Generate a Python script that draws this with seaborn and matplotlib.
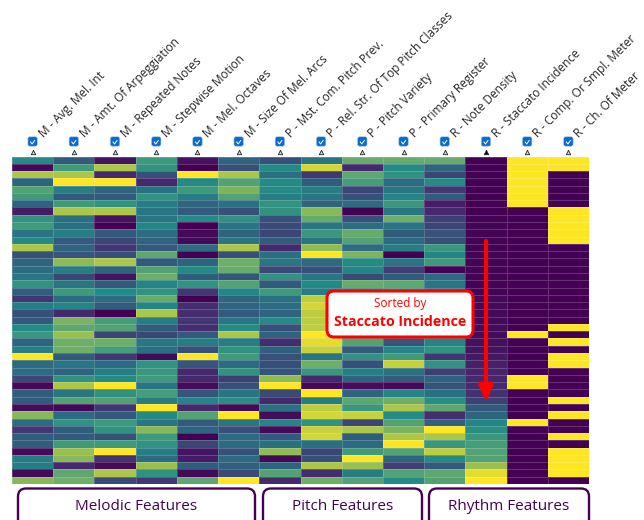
"""
Feature heatmap sorted by staccato incidence, with feature group boxes.
"""

import pandas as pd
import numpy as np
import matplotlib
matplotlib.use("Agg")
import matplotlib.pyplot as plt
from matplotlib.colors import LinearSegmentedColormap
from matplotlib.patches import FancyBboxPatch
import seaborn as sns

feature_labels = ["M - Avg. Mel. Int", "M - Amt. Of Arpeggiation", "M - Repeated Notes",
                  "M - Stepwise Motion", "M - Mel. Octaves", "M - Size Of Mel. Arcs",
                  "P - Mst. Com. Pitch Prev.", "P - Rel. Str. Of Top Pitch Classes",
                  "P - Pitch Variety", "P - Primary Register", "R - Note Density",
                  "R - Staccato Incidence", "R - Comp. Or Smpl. Meter", "R - Ch. Of Meter"]

avg_mel_int = [.5,.02,.85,.35,.65,.6,.35,.07,.55,.6,.42,.5,.85,.25,.35,.38,.42,.55,.32,.15,.45,.25,.3,
               .5,.58,.35,.45,1,.38,.38,.22,.02,.32,.32,.03,.78,.38,.15,.32,.32,.02,.45,.45,.02,.78]
arpeggiation = [.3,.6,.85,1,.45,.3,.6,.85,.4,.4,.45,.3,.35,.28,.8,.45,.2,.42,.6,.38,.48,.1,.75,
                .68,.82,.72,.72,.3,.42,.35,.55,.85,.42,.65,.02,.38,.55,.32,.3,.6,.82,.78,.1,.68,.72]
repeated_notes = [.05,.85,.1,1,.35,.3,.55,.85,.05,0,.3,.2,.15,.25,.85,.35,.05,.3,.5,.38,.32,0,.62,
                  .65,.2,.72,.62,.15,.38,.45,.5,1,.55,.65,.15,.3,.6,.55,.25,.6,1,.13,.03,.85,.22]
stepwise_motion = [.6,.55,.25,.1,.4,.55,.45,.42,.42,.48,.38,.35,.3,.68,.3,.65,.72,.48,.55,.7,.48,.85,.45,
                   .32,.2,.42,.4,.02,.55,.58,.6,.42,.62,.45,1,.5,.42,.78,.6,.55,.45,.38,.82,.55,.15]
mel_octaves = [.05,0,1,.5,.6,.45,.35,.3,.5,0,.02,.02,.38,0,.35,.5,.32,.55,.15,0,.12,.12,.15,
               .12,.3,.45,.25,1,.28,.1,.1,.03,.28,.48,.1,.65,.3,.35,0,.2,.05,.07,.32,.02,.68]
mel_arcs = [.35,.25,.85,.65,.75,.65,.4,.25,.55,.42,.35,.42,.85,.25,.72,.7,.28,.65,.48,.35,.35,.3,.42,
            .5,.85,.45,.55,.6,.38,.55,.18,.25,.42,.52,.02,1,.42,.25,.38,.38,.25,.37,.33,.22,1]
com_pitch_prev = [.25,.5,.4,.5,.5,.45,.55,.55,.25,.22,.2,.32,.1,.4,.42,.22,.55,.3,.6,.4,.38,.35,.5,
                  .25,.35,.12,.33,.25,.25,.27,.8,1,.22,.1,.4,.03,.48,.02,.3,.4,.8,.02,.35,.65,.1]
top_pitch_classes = [.42,.92,.15,.32,.45,.42,.35,.78,.7,.42,.58,.42,.8,1,.38,.25,.42,.5,.45,.88,.92,.88,.88,
                     .88,1,.95,.9,.42,.72,.58,.1,.02,1,.45,.88,.92,.55,.9,.92,.4,.2,.25,.85,.12,.72]
pitch_variety = [.7,.1,.68,.62,.2,.25,.38,0,.25,.38,.7,.65,.38,.75,.5,.48,.22,.7,.5,.4,.6,.5,.65,
                 .55,.6,.65,.3,.55,.25,.45,.35,.03,.35,.68,.58,.9,.2,.85,.32,.38,.6,1,.82,.45,.65]
primary_register = [.7,.5,.55,.38,.42,.48,.58,.42,.72,.42,.32,.38,.45,0,.42,.18,.3,.68,.55,.45,.35,.6,.4,
                    .5,.3,.28,.48,.6,.9,.4,.3,.02,.48,.72,.85,.5,.65,.75,.85,1,.65,.35,.18,.65,.5]
note_density = [.7,.35,.2,.5,.15,.32,.07,.1,.18,.2,.27,.25,.58,.48,.6,0,.38,.42,.4,.2,.55,.3,.45,
                .35,.5,.48,.55,.15,.55,.18,.35,.27,.4,.52,.68,.12,.33,1,.85,.58,.88,.5,.3,.68,.65]
staccato = [0,0,0,0,0,0,0,0,.01,.01,.01,.01,.01,.01,.01,.01,.01,.01,.01,.02,.02,.02,.02,
            .03,.03,.04,.05,.06,.08,.09,.1,.11,.13,.18,.3,.35,.48,.52,.58,.62,.65,.65,.82,.95,1]
comp_smpl_meter = [1,1,1,1,1,1,1,0,0,0,0,0,0,0,0,0,0,0,0,0,0,0,0,
                   0,1,0,0,0,0,0,1,1,0,0,0,0,1,0,0,0,0,0,0,0,0]
ch_of_meter = [1,1,0,0,0,0,0,1,1,1,1,1,0,0,0,0,0,0,0,0,0,0,0,
               1,0,1,0,1,1,0,0,0,0,1,0,1,0,0,1,0,1,1,1,1,0]

group_names = ["Melodic Features", "Pitch Features", "Rhythm Features"]
group_spans = [(18, 255), (263, 422), (429, 589)]

PURPLE = "#440154"
RED = "#ff0000"
BLUE = "#0b6bcb"
sorted_col = 11

# viridis as it looks in the screenshot, duller in the middle
muted_viridis = LinearSegmentedColormap.from_list(
    "muted_viridis",
    ["#440154", "#46296e", "#3c4676", "#33597c", "#2a7083", "#238a85",
     "#3f9a7c", "#65aa6c", "#8fbb55", "#c6d13c", "#fde725"])

plt.rcParams["font.family"] = ["Open Sans", "DejaVu Sans"]

df = pd.DataFrame(
    np.column_stack([avg_mel_int, arpeggiation, repeated_notes, stepwise_motion, mel_octaves,
                     mel_arcs, com_pitch_prev, top_pitch_classes, pitch_variety, primary_register,
                     note_density, staccato, comp_smpl_meter, ch_of_meter]),
    columns=feature_labels)

fig = plt.figure(figsize=(6.44, 5.2), dpi=100)
ax = fig.add_axes([12 / 644, 36 / 520, 577 / 644, 327.5 / 520])
sns.heatmap(df, ax=ax, cmap=muted_viridis, vmin=0, vmax=1, cbar=False,
            xticklabels=False, yticklabels=False, linewidths=0.5, linecolor="#ffffff30")

# overlay in pixel coordinates for the interface bits around the heatmap
ov = fig.add_axes([0, 0, 1, 1], zorder=5)
ov.set_xlim(0, 644); ov.set_ylim(520, 0)
ov.axis("off"); ov.patch.set_alpha(0)

col_w = 577 / len(feature_labels)
for i, label in enumerate(feature_labels):
    cx = 12 + col_w * (i + 0.5)
    ov.text(cx + 13, 140, label, rotation=45, rotation_mode="anchor", ha="left", va="bottom",
            fontsize=8.5, color="#262626")
    ov.add_patch(FancyBboxPatch((cx - 3.5, 138), 7, 7, boxstyle="round,pad=1.2,rounding_size=2",
                                fc=BLUE, ec="#9cc4ec", lw=0.4))
    ov.plot([cx - 2, cx - 0.5, cx + 2], [142, 144, 140.5], color="white", lw=0.7)
    ov.scatter([cx], [152], marker="^", s=10, linewidths=0.6, edgecolors="#222222",
               color="black" if i == sorted_col else "#d8d8d8")

# group boxes, cut off by the bottom of the figure
for name, (x0, x1) in zip(group_names, group_spans):
    ov.add_patch(FancyBboxPatch((x0, 488.5), x1 - x0, 50, boxstyle="round,pad=0,rounding_size=8",
                                fc="white", ec=PURPLE, lw=1.7))
    ov.text((x0 + x1) / 2, 507, name, ha="center", va="center", fontsize=11, color=PURPLE)

# sort arrow and callout
ov.annotate("", xy=(486, 402), xytext=(486, 241),
            arrowprops=dict(arrowstyle="-|>,head_length=0.95,head_width=0.42",
                            color=RED, lw=3, shrinkA=0, shrinkB=0))
ov.add_patch(FancyBboxPatch((327, 291), 146, 46, boxstyle="round,pad=0,rounding_size=7",
                            fc="white", ec=RED, lw=2.2, zorder=6))
ov.text(400, 303, "Sorted by", ha="center", va="center", fontsize=8.5, color=RED, zorder=7)
ov.text(400, 322, "Staccato Incidence", ha="center", va="center", fontsize=10.2,
        fontweight="bold", color=RED, zorder=7)

plt.savefig("out.png", dpi=100)
plt.close()
